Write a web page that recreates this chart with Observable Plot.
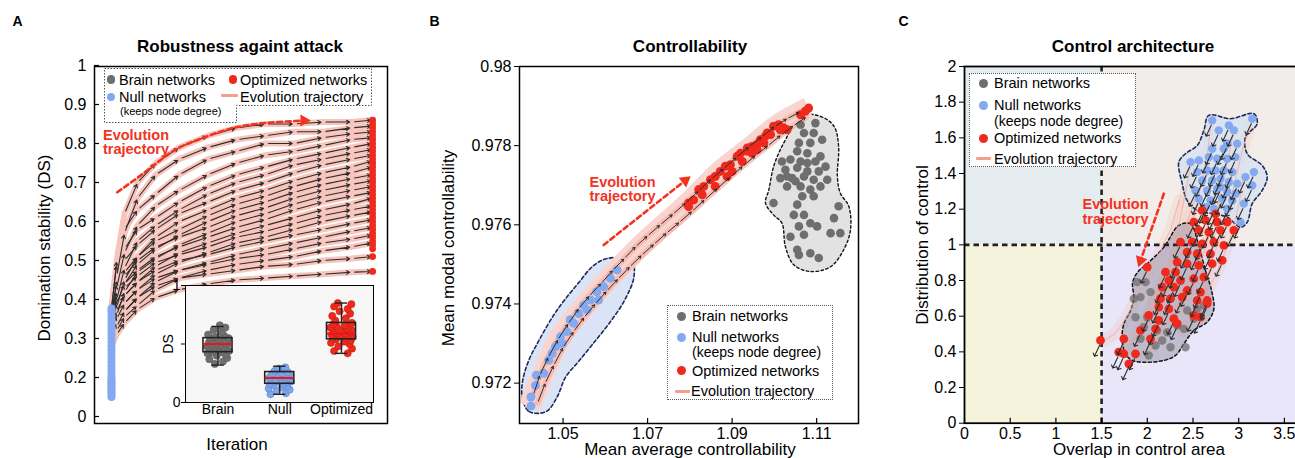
<!DOCTYPE html>
<html>
<head>
<meta charset="utf-8">
<script src="https://cdn.jsdelivr.net/npm/d3@7"></script>
<script src="https://cdn.jsdelivr.net/npm/@observablehq/plot@0.6"></script>
<style>
  html, body { margin: 0; padding: 0; background: #fff; }
  #root { position: relative; width: 1295px; height: 458px; overflow: hidden; background: #fff;
          font-family: "Liberation Sans", Arial, Helvetica, sans-serif; color: #000; }
  .abs { position: absolute; white-space: nowrap; line-height: 1; }
  .legend { position: absolute; background: #fff; border: 1px dotted #555; box-sizing: border-box; }
</style>
</head>
<body>
<div id="root"></div>
<script>
// ================= DATA =================
// ---- Panel A: Robustness against attack ----
const iterA = [0, 2, 5, 10, 17, 26, 37, 48, 59, 70, 81, 92, 100];
const dsTrajA = [
  [0.37,0.50,0.62,0.70,0.75,0.79,0.82,0.84,0.85,0.85,0.855,0.855,0.86],
  [0.34,0.46,0.57,0.66,0.72,0.76,0.79,0.81,0.82,0.83,0.83,0.84,0.845],
  [0.38,0.49,0.58,0.63,0.67,0.72,0.76,0.78,0.80,0.80,0.815,0.825,0.83],
  [0.33,0.43,0.52,0.59,0.64,0.68,0.72,0.75,0.77,0.78,0.795,0.81,0.815],
  [0.35,0.45,0.53,0.58,0.61,0.65,0.69,0.72,0.74,0.76,0.775,0.79,0.80],
  [0.31,0.40,0.48,0.55,0.59,0.63,0.67,0.70,0.72,0.745,0.76,0.775,0.785],
  [0.37,0.44,0.50,0.54,0.58,0.62,0.65,0.68,0.70,0.725,0.745,0.76,0.77],
  [0.30,0.38,0.45,0.51,0.56,0.60,0.63,0.66,0.68,0.705,0.725,0.74,0.755],
  [0.34,0.41,0.47,0.51,0.55,0.58,0.615,0.645,0.665,0.69,0.71,0.725,0.74],
  [0.32,0.39,0.44,0.49,0.53,0.565,0.60,0.63,0.65,0.675,0.695,0.71,0.72],
  [0.36,0.42,0.46,0.50,0.535,0.56,0.585,0.615,0.635,0.66,0.68,0.695,0.705],
  [0.29,0.36,0.42,0.47,0.505,0.54,0.57,0.60,0.62,0.645,0.665,0.68,0.69],
  [0.33,0.39,0.44,0.475,0.51,0.535,0.56,0.585,0.605,0.63,0.65,0.665,0.675],
  [0.31,0.37,0.41,0.445,0.485,0.52,0.545,0.57,0.59,0.61,0.63,0.645,0.66],
  [0.35,0.40,0.43,0.46,0.495,0.515,0.535,0.56,0.575,0.595,0.615,0.63,0.64],
  [0.30,0.35,0.39,0.425,0.465,0.495,0.52,0.545,0.56,0.58,0.60,0.615,0.625],
  [0.33,0.37,0.41,0.445,0.475,0.50,0.515,0.535,0.55,0.565,0.58,0.595,0.605],
  [0.28,0.33,0.37,0.405,0.445,0.475,0.495,0.515,0.53,0.545,0.56,0.575,0.585],
  [0.32,0.36,0.39,0.425,0.455,0.475,0.49,0.505,0.515,0.53,0.545,0.555,0.565],
  [0.29,0.32,0.355,0.385,0.425,0.455,0.475,0.49,0.50,0.51,0.525,0.535,0.545],
  [0.31,0.34,0.37,0.405,0.435,0.455,0.465,0.475,0.485,0.49,0.50,0.505,0.51],
  [0.28,0.31,0.34,0.375,0.405,0.425,0.44,0.45,0.455,0.46,0.465,0.47,0.472]
];
const nullStartA = [0.10,0.11,0.12,0.13,0.14,0.15,0.16,0.17,0.18,0.19,0.20,0.21,0.22,0.23,0.24,0.25,0.26,0.27,0.28,0.29,0.30,0.31,0.32,0.33,0.34,0.35,0.36,0.37,0.377];
const optFinalA = [0.472,0.51,0.53,0.54,0.55,0.56,0.57,0.58,0.59,0.60,0.61,0.62,0.63,0.64,0.65,0.66,0.67,0.68,0.69,0.70,0.71,0.72,0.73,0.74,0.75,0.76,0.77,0.78,0.79,0.80,0.81,0.82,0.83,0.84,0.85,0.86];
const evoCurveA = [[2.2,0.675],[13.7,0.731],[23.9,0.782],[34.1,0.812],[45.6,0.838],[58.3,0.852],[73.7,0.859]];
const ticksA = [0, 0.2, 0.3, 0.4, 0.5, 0.6, 0.7, 0.8, 0.9, 1];

// ---- Panel A inset ----
const insetCats = ["Brain", "Null", "Optimized"];
const insetPos = [1, 2, 3];
const brainDSInset = [0.33,0.35,0.37,0.38,0.40,0.41,0.42,0.43,0.43,0.44,0.45,0.45,0.46,0.47,0.47,0.48,0.49,0.49,0.50,0.50,0.51,0.51,0.52,0.53,0.53,0.54,0.55,0.55,0.56,0.57,0.58,0.60,0.62,0.64,0.66];
const brainJitInset = [-0.05,0.08,-0.14,0.15,-0.02,0.12,-0.17,0.05,-0.09,0.18,-0.12,0.02,0.14,-0.06,0.09,-0.18,0.04,-0.1,0.16,-0.03,0.11,-0.15,0.07,-0.08,0.13,0.0,-0.13,0.17,-0.04,0.1,-0.16,0.06,-0.07,0.12,0.03];
const nullDSInset = [0.07,0.08,0.10,0.11,0.12,0.13,0.14,0.15,0.16,0.16,0.17,0.18,0.18,0.19,0.19,0.20,0.20,0.21,0.21,0.22,0.22,0.23,0.23,0.24,0.24,0.25,0.25,0.26,0.27,0.28,0.29,0.30];
const nullJitInset = [-0.15,0.1,-0.05,0.16,-0.18,0.03,0.12,-0.1,0.07,-0.16,0.14,-0.03,0.18,-0.12,0.05,0.1,-0.07,0.15,-0.17,0.0,0.08,-0.14,0.17,-0.05,0.11,-0.11,0.04,0.13,-0.08,0.06,-0.02,0.09];
const optDSInset = [0.42,0.44,0.46,0.48,0.50,0.51,0.52,0.53,0.54,0.55,0.55,0.56,0.57,0.57,0.58,0.59,0.59,0.60,0.60,0.61,0.62,0.62,0.63,0.64,0.65,0.65,0.66,0.67,0.68,0.70,0.72,0.74,0.76,0.78,0.80,0.82,0.84,0.85];
const optJitInset = [0.1,-0.12,0.17,-0.05,0.13,-0.17,0.04,0.15,-0.09,0.08,-0.14,0.18,-0.02,0.11,-0.16,0.06,-0.07,0.14,-0.11,0.02,0.16,-0.04,0.09,-0.18,0.12,-0.08,0.05,-0.13,0.17,-0.1,0.07,-0.15,0.14,-0.03,0.1,-0.12,0.16,-0.06];
const boxQ1 = [0.43, 0.16, 0.54];
const boxMed = [0.50, 0.21, 0.59];
const boxQ3 = [0.55, 0.26, 0.68];
const boxLo = [0.32, 0.07, 0.42];
const boxHi = [0.65, 0.31, 0.85];

// ---- Panel B: Controllability ----
const brainB = [
[1.1062,0.97853],[1.1097,0.97857],[1.1070,0.97832],[1.1093,0.97832],[1.1058,0.97807],[1.1085,0.97807],[1.1113,0.97815],[1.1054,0.97786],[1.1078,0.97781],[1.1109,0.97773],
[1.1018,0.97760],[1.1038,0.97765],[1.1062,0.97760],[1.1097,0.97760],[1.1121,0.97747],[1.1026,0.97739],[1.1054,0.97744],[1.1078,0.97735],[1.1105,0.97735],[1.1014,0.97718],
[1.1042,0.97718],[1.1070,0.97722],[1.1093,0.97714],[1.1125,0.97714],[1.1030,0.97697],[1.1062,0.97697],[1.1085,0.97689],[1.1109,0.97697],[1.0998,0.97655],[1.1066,0.97672],
[1.1093,0.97672],[1.1054,0.97651],[1.1152,0.97647],[1.1046,0.97625],[1.1070,0.97625],[1.1141,0.97617],[1.1058,0.97596],[1.1085,0.97604],[1.1101,0.97596],[1.1038,0.97570],
[1.1070,0.97575],[1.1133,0.97579],[1.1156,0.97579],[1.1054,0.97537],[1.1085,0.97528],[1.1105,0.97516],[1.1058,0.97524],[1.1030,0.97722],[1.1078,0.97756],[1.1050,0.97710]
];
const nullB = [
[1.0424,0.97142],[1.0424,0.97165],[1.0435,0.97194],[1.0437,0.9722],[1.0454,0.97225],[1.0466,0.97258],[1.0482,0.97292],[1.0494,0.97317],[1.0509,0.9733],[1.0525,0.97351],[1.0537,0.97376],
[1.0549,0.97397],[1.0565,0.9741],[1.058,0.97431],[1.0596,0.97444],[1.0612,0.97465],[1.0628,0.97486],[1.0584,0.9741],[1.0557,0.97385],[1.0517,0.9736],[1.0498,0.973],[1.0474,0.97275]
];
const optB = [
[1.0797,0.97655],[1.0809,0.97663],[1.0821,0.97689],[1.0833,0.97697],[1.0849,0.97714],[1.0860,0.97722],[1.0872,0.97735],[1.0884,0.97748],[1.0896,0.97752],[1.0912,0.97773],
[1.0924,0.9776],[1.0920,0.97781],[1.0936,0.97786],[1.0947,0.97798],[1.0959,0.97803],[1.0967,0.97815],[1.0979,0.97824],[1.0983,0.97832],[1.0998,0.97849],[1.1010,0.97853],
[1.1022,0.97845],[1.1030,0.9784],[1.1062,0.97878],[1.1073,0.97887],[1.1081,0.97895],[1.0860,0.97697],[1.0888,0.97722],[1.0900,0.97735],[1.0947,0.97781],[1.0959,0.9779],
[1.0991,0.97828],[1.1014,0.9784],[1.0829,0.97676],[1.0797,0.97646],[1.0936,0.97794],[1.0975,0.97807]
];
const nullBlobB = [
[1.0404,0.97160],[1.0420,0.97128],[1.0460,0.97128],[1.0486,0.97165],[1.0506,0.97215],[1.0537,0.97255],[1.0569,0.97297],[1.0607,0.97348],[1.0646,0.97410],[1.0668,0.97470],
[1.0662,0.97510],[1.0605,0.97515],[1.0570,0.97495],[1.0538,0.97455],[1.0505,0.97412],[1.0478,0.97372],[1.0443,0.97308],[1.0418,0.97255],[1.0404,0.97203]
];
const brainBlobB = [
[1.1054,0.97878],[1.1109,0.97874],[1.1141,0.97849],[1.1152,0.97798],[1.1149,0.97722],[1.1156,0.9768],[1.1176,0.97647],[1.1180,0.97587],[1.1164,0.97537],[1.1133,0.97494],
[1.1085,0.97482],[1.1046,0.97499],[1.1026,0.97545],[1.1018,0.97604],[1.0998,0.97625],[1.0979,0.97655],[1.0987,0.97689],[1.0998,0.97747],[1.1014,0.9779],[1.1034,0.97832],[1.1042,0.97862]
];
const bandB = [[1.0420,0.97140],[1.0454,0.97225],[1.0494,0.97317],[1.0537,0.97376],[1.0580,0.97431],[1.0628,0.97486],[1.0691,0.97554],[1.0797,0.97655],[1.0872,0.97735],[1.0947,0.97798],[1.1010,0.97853],[1.1081,0.97895]];
const laneB1 = [[1.0430,0.97170],[1.0445,0.97220],[1.0465,0.97265],[1.0488,0.97310],[1.0512,0.97350],[1.0537,0.97388],[1.0562,0.97420],[1.0590,0.97452],[1.0618,0.97485],[1.0645,0.97515],[1.0672,0.97545],[1.0700,0.97572],[1.0730,0.97600],[1.0760,0.97627],[1.0790,0.97655],[1.0820,0.97685],[1.0850,0.97715],[1.0880,0.97742],[1.0910,0.97770],[1.0940,0.97797],[1.0970,0.97822],[1.1000,0.97848],[1.1030,0.97868],[1.1060,0.97885]];
const laneB2 = [[1.0440,0.97150],[1.0458,0.97200],[1.0478,0.97245],[1.0500,0.97290],[1.0525,0.97330],[1.0550,0.97366],[1.0576,0.97400],[1.0603,0.97432],[1.0630,0.97463],[1.0658,0.97494],[1.0686,0.97523],[1.0715,0.97551],[1.0745,0.97579],[1.0775,0.97606],[1.0805,0.97634],[1.0835,0.97663],[1.0865,0.97692],[1.0895,0.97720],[1.0925,0.97748],[1.0955,0.97775],[1.0985,0.97800],[1.1015,0.97826],[1.1045,0.97850],[1.1075,0.97872]];
const evoArrowB = [[1.0596,0.97549],[1.0789,0.97712]];
const ticksBx = [1.05, 1.07, 1.09, 1.11];
const ticksBy = [0.972, 0.974, 0.976, 0.978, 0.98];

// ---- Panel C: Control architecture ----
const thresholdX = 1.5, thresholdY = 1;
const quadrantsC = [
  {x1: 0, x2: 1.5, y1: 1, y2: 2, fill: "#e5ecef"},
  {x1: 1.5, x2: 4, y1: 1, y2: 2, fill: "#f3ede9"},
  {x1: 0, x2: 1.5, y1: 0, y2: 1, fill: "#f5f3dc"},
  {x1: 1.5, x2: 4, y1: 0, y2: 1, fill: "#e8e6f8"}
];
const blueC = [
[2.710,1.698],[2.892,1.670],[3.148,1.707],[2.782,1.642],[2.947,1.642],[2.874,1.567],[2.710,1.539],[2.837,1.539],[2.983,1.567],[2.473,1.464],[2.564,1.473],[2.673,1.492],
[2.765,1.483],[2.874,1.483],[2.965,1.492],[3.166,1.408],[2.546,1.408],[2.655,1.417],[2.746,1.417],[2.837,1.417],[2.929,1.408],[3.074,1.380],[2.600,1.361],[2.710,1.361],
[2.801,1.371],[2.892,1.352],[2.983,1.343],[3.148,1.333],[2.527,1.305],[2.655,1.305],[2.765,1.315],[2.874,1.296],[2.965,1.287],[2.564,1.259],[2.691,1.249],[2.819,1.259],
[2.929,1.249],[3.056,1.231],[2.728,1.202],[2.874,1.202],[3.020,1.127],[2.637,1.211],[2.801,1.324]
];
const redC = [
[2.600,1.193],[2.746,1.174],[2.509,1.127],[2.637,1.137],[2.765,1.127],[2.874,1.127],[2.564,1.081],[2.673,1.071],[2.801,1.081],[2.947,1.081],[2.363,1.015],[2.491,1.015],
[2.600,1.006],[2.728,1.015],[2.837,0.997],[2.436,0.959],[2.546,0.950],[2.691,0.950],[2.819,0.913],[2.327,0.903],[2.436,0.894],[2.564,0.885],[2.710,0.894],[2.199,0.847],
[2.309,0.847],[2.236,0.800],[2.363,0.800],[2.509,0.810],[2.619,0.819],[2.163,0.763],[2.290,0.763],[2.436,0.744],[2.582,0.735],[2.144,0.698],[2.254,0.698],[2.382,0.707],
[2.546,0.688],[2.655,0.688],[1.999,0.875],[2.126,0.651],[2.236,0.641],[2.016,0.604],[2.126,0.576],[2.290,0.586],[2.509,0.604],[2.582,0.594],[1.926,0.520],[2.090,0.529],
[1.488,0.464],[1.743,0.473],[1.688,0.398],[1.743,0.389],[1.871,0.389],[1.798,0.333],[2.035,0.473],[2.327,0.558],[2.655,0.670]
];
const greyC = [
[1.889,0.791],[1.980,0.791],[1.926,0.707],[2.035,0.735],[1.871,0.594],[1.999,0.594],[2.108,0.520],[2.218,0.510],[2.327,0.548],[2.400,0.529],[2.436,0.632],
[2.546,0.641],[2.619,0.660],[2.509,0.586],[2.418,0.426],[2.254,0.426],[2.016,0.380],[1.926,0.473],[2.090,0.436],[2.163,0.464],[1.962,0.538],[1.853,0.698]
];
const nullBlobC = [
[2.673,1.726],[2.910,1.707],[3.166,1.735],[3.202,1.679],[3.074,1.604],[3.093,1.511],[3.257,1.445],[3.312,1.380],[3.257,1.305],[3.148,1.231],[3.093,1.127],
[3.020,1.099],[2.874,1.155],[2.728,1.174],[2.546,1.193],[2.436,1.249],[2.382,1.343],[2.345,1.464],[2.418,1.511],[2.546,1.557],[2.619,1.642]
];
const brainBlobC = [
[2.345,1.109],[2.473,1.118],[2.56,1.0],[2.64,0.85],[2.70,0.75],[2.728,0.64],[2.655,0.567],[2.509,0.520],[2.400,0.445],[2.309,0.380],[2.181,0.352],
[1.999,0.342],[1.835,0.352],[1.761,0.389],[1.725,0.464],[1.743,0.557],[1.816,0.632],[1.853,0.698],[1.840,0.790],[1.900,0.850],[1.999,0.894],[2.181,0.987]
];
const trajC = [
  [[3.15,1.70],[3.05,1.55],[2.98,1.40],[2.90,1.22],[2.80,1.05],[2.70,0.90],[2.62,0.78],[2.55,0.66]],
  [[2.70,1.70],[2.66,1.52],[2.60,1.36],[2.52,1.18],[2.42,1.02],[2.32,0.88],[2.22,0.74],[2.12,0.60]],
  [[2.95,1.64],[2.88,1.48],[2.80,1.30],[2.72,1.12],[2.62,0.96],[2.52,0.82],[2.42,0.70],[2.30,0.56]],
  [[2.48,1.46],[2.42,1.30],[2.36,1.14],[2.28,0.98],[2.18,0.84],[2.08,0.70],[1.98,0.56],[1.86,0.42]],
  [[3.05,1.38],[3.00,1.22],[2.92,1.06],[2.82,0.92],[2.72,0.80],[2.62,0.70],[2.50,0.60],[2.40,0.52]],
  [[2.55,1.30],[2.45,1.15],[2.35,1.00],[2.25,0.86],[2.12,0.72],[2.00,0.60],[1.88,0.50],[1.75,0.40]],
  [[2.80,1.25],[2.70,1.10],[2.58,0.96],[2.46,0.82],[2.34,0.68],[2.22,0.56],[2.10,0.46],[1.98,0.38]],
  [[2.35,1.25],[2.25,1.08],[2.12,0.94],[2.00,0.82],[1.88,0.70],[1.76,0.58],[1.64,0.50],[1.52,0.46]]
];
const evoArrowC = [[2.181,1.287],[1.926,0.912]];
const ticksCx = [0, 0.5, 1, 1.5, 2, 2.5, 3, 3.5];
const ticksCy = [0, 0.2, 0.4, 0.6, 0.8, 1, 1.2, 1.4, 1.6, 1.8, 2];

// ================= STYLE =================
const FONT = '"Liberation Sans", Arial, Helvetica, sans-serif';
const RED = "#f0291c", BLUE = "#84a9f0", GREY = "#6e6e6e", PINK = "#f8c5bd",
      PINK_LEG = "#f49d93", ARROW = "#2d2d2d", EVO = "#f2331f";
const fmt = d3.format("~g");
const root = document.getElementById("root");
const X = d => d[0], Y = d => d[1];
const svgStyle = (fs) => ({fontFamily: FONT, fontSize: fs + "px", color: "#000", background: "transparent", overflow: "visible"});

function place(node, left, top) {
  node.style.position = "absolute"; node.style.left = left + "px"; node.style.top = top + "px";
  root.appendChild(node);
}
function txt(s, x, y, o = {}) {
  const d = document.createElement("div");
  d.className = "abs"; d.textContent = s;
  d.style.left = x + "px"; d.style.top = y + "px";
  d.style.fontSize = (o.size || 16) + "px";
  if (o.bold) d.style.fontWeight = "bold";
  if (o.color) d.style.color = o.color;
  d.style.transform = (o.anchor === "start" ? "translate(0,-50%)" : "translate(-50%,-50%)") + (o.rotate ? ` rotate(${o.rotate}deg)` : "");
  root.appendChild(d); return d;
}
function dot(cx, cy, r, color) {
  const d = document.createElement("div");
  Object.assign(d.style, {position: "absolute", left: (cx - r) + "px", top: (cy - r) + "px", width: 2 * r + "px", height: 2 * r + "px", borderRadius: "50%", background: color});
  root.appendChild(d);
}
function bar(x1, x2, y, color, t) {
  const d = document.createElement("div");
  Object.assign(d.style, {position: "absolute", left: x1 + "px", top: (y - t / 2) + "px", width: (x2 - x1) + "px", height: t + "px", background: color, borderRadius: "1px"});
  root.appendChild(d);
}
function box(left, top, w, h) {
  const d = document.createElement("div"); d.className = "legend";
  Object.assign(d.style, {left: left + "px", top: top + "px", width: w + "px", height: h + "px"});
  root.appendChild(d);
}

// ================= PANEL A =================
const trajRowsA = dsTrajA.flatMap((t, k) => t.map((ds, i) => ({k, it: iterA[i], ds})));
const trajSegsA = dsTrajA.flatMap((t, k) => t.slice(1).map((ds, i) => ({k, i, x1: iterA[i], y1: t[i], x2: iterA[i + 1], y2: ds})))
  .filter(s => s.i > 1 || s.k % 2 === s.i % 2);
const lastA = iterA[iterA.length - 1];

const plotA = Plot.plot({
  width: 400, height: 458,
  marginLeft: 94, marginRight: 13, marginTop: 66, marginBottom: 35,
  x: {domain: [-6.5, 105.7], axis: null},
  y: {type: "linear", domain: [0, 0.2, 1], range: [416, 377, 65]},
  style: svgStyle(16),
  marks: [
    Plot.line(trajRowsA, {x: "it", y: "ds", z: "k", stroke: PINK, strokeWidth: 6, strokeLinejoin: "round", strokeLinecap: "round"}),
    Plot.arrow(trajSegsA, {x1: "x1", y1: "y1", x2: "x2", y2: "y2", stroke: ARROW, strokeWidth: 1.1, headLength: 5, insetStart: 3, insetEnd: 2}),
    Plot.dot(nullStartA, {x: () => iterA[0], y: d => d, r: 4, fill: BLUE}),
    Plot.dot(optFinalA, {x: () => lastA, y: d => d, r: 3.4, fill: RED}),
    Plot.line(evoCurveA, {x: X, y: Y, curve: "natural", stroke: EVO, strokeWidth: 2.6, strokeDasharray: "5,3.5"}),
    Plot.dot(evoCurveA.slice(-1), {x: X, y: Y, symbol: "triangle", rotate: 90, r: 4.5, fill: EVO}),
    Plot.tickY(ticksA, {y: d => d, insetRight: 288, stroke: "#000", strokeWidth: 1.2}),
    Plot.axisY({ticks: ticksA, tickFormat: fmt, tickSize: 0, tickPadding: 8, label: null}),
    Plot.frame({stroke: "#000", strokeWidth: 1.5})
  ]
});
place(plotA, 0, 0);

// inset
const insetStats = insetPos.map((p, i) => ({p, q1: boxQ1[i], med: boxMed[i], q3: boxQ3[i], lo: boxLo[i], hi: boxHi[i]}));
const jit = (vals, jits, p) => vals.map((v, i) => ({x: p + jits[i], y: v}));
const plotInset = Plot.plot({
  width: 240, height: 145,
  marginLeft: 35, marginRight: 17, marginTop: 10, marginBottom: 18,
  x: {domain: [0.474, 3.518], axis: null},
  y: {domain: [0, 1], axis: null},
  style: svgStyle(14),
  marks: [
    Plot.frame({fill: "#f6f6f6"}),
    Plot.dot(jit(brainDSInset, brainJitInset, insetPos[0]), {x: "x", y: "y", r: 3.6, fill: "#6f6f6f", stroke: "#555", strokeWidth: 0.5}),
    Plot.dot(jit(nullDSInset, nullJitInset, insetPos[1]), {x: "x", y: "y", r: 3.6, fill: "#7ea4ea", stroke: "#5d7fc0", strokeWidth: 0.5}),
    Plot.dot(jit(optDSInset, optJitInset, insetPos[2]), {x: "x", y: "y", r: 3.6, fill: "#ee2a1c", stroke: "#b81d12", strokeWidth: 0.5}),
    Plot.ruleX(insetStats, {x: "p", y1: "lo", y2: "q1", stroke: "#222", strokeWidth: 1.4}),
    Plot.ruleX(insetStats, {x: "p", y1: "q3", y2: "hi", stroke: "#222", strokeWidth: 1.4}),
    Plot.ruleY(insetStats, {y: "lo", x1: d => d.p - 0.1, x2: d => d.p + 0.1, stroke: "#222", strokeWidth: 1.4}),
    Plot.ruleY(insetStats, {y: "hi", x1: d => d.p - 0.1, x2: d => d.p + 0.1, stroke: "#222", strokeWidth: 1.4}),
    Plot.rect(insetStats, {x1: d => d.p - 0.235, x2: d => d.p + 0.235, y1: "q1", y2: "q3", fill: "none", stroke: "#222", strokeWidth: 1.6}),
    Plot.ruleY(insetStats, {y: "med", x1: d => d.p - 0.235, x2: d => d.p + 0.235, stroke: "#e8151b", strokeWidth: 2}),
    Plot.axisY({ticks: [0, 0.5, 1], tickFormat: d => d === 0.5 ? "" : fmt(d), tickSize: 4, tickPadding: 1, label: null}),
    Plot.axisX({ticks: insetPos, tickFormat: p => insetCats[p - 1], tickSize: 0, tickPadding: 2, label: null}),
    Plot.frame({stroke: "#000", strokeWidth: 1})
  ]
});
place(plotInset, 150, 275);

// ================= PANEL B =================
const laneSegsB = [laneB1, laneB2].flatMap(l => l.slice(1).map((q, i) => ({x1: l[i][0], y1: l[i][1], x2: q[0], y2: q[1]})));
const evoHeadB = evoArrowB.slice(-1);
const plotB = Plot.plot({
  width: 430, height: 458,
  marginLeft: 89, marginRight: 2, marginTop: 66, marginBottom: 35,
  x: {domain: [1.0397, 1.1199]},
  y: {domain: [0.97098, 0.98]},
  style: svgStyle(16),
  marks: [
    Plot.line(nullBlobB, {x: X, y: Y, curve: "catmull-rom-closed", fill: "#dae4f6", stroke: "#1c2b5a", strokeWidth: 1.6, strokeDasharray: "3.5,2.5"}),
    Plot.line(brainBlobB, {x: X, y: Y, curve: "catmull-rom-closed", fill: "#e2e2e2", stroke: "#111", strokeWidth: 1.4, strokeDasharray: "2.5,2.5"}),
    Plot.line(bandB, {x: X, y: Y, curve: "catmull-rom", stroke: "#fad5cf", strokeWidth: 22, strokeLinecap: "butt", strokeLinejoin: "round"}),
    Plot.line(laneB1, {x: X, y: Y, curve: "catmull-rom", stroke: "#f6b7ad", strokeWidth: 6, strokeOpacity: 0.8, strokeLinecap: "round"}),
    Plot.line(laneB2, {x: X, y: Y, curve: "catmull-rom", stroke: "#f6b7ad", strokeWidth: 6, strokeOpacity: 0.8, strokeLinecap: "round"}),
    Plot.dot(nullB, {x: X, y: Y, r: 4.5, fill: BLUE}),
    Plot.dot(brainB, {x: X, y: Y, r: 4.3, fill: GREY}),
    Plot.dot(optB, {x: X, y: Y, r: 4.5, fill: RED}),
    Plot.arrow(laneSegsB, {x1: "x1", y1: "y1", x2: "x2", y2: "y2", stroke: ARROW, strokeWidth: 1, headLength: 4, insetStart: 2, insetEnd: 1}),
    Plot.line(evoArrowB, {x: X, y: Y, stroke: EVO, strokeWidth: 2.6, strokeDasharray: "5,3.5"}),
    Plot.dot(evoHeadB, {x: X, y: Y, symbol: "triangle", rotate: 52, r: 4.5, fill: EVO}),
    Plot.tickX(ticksBx, {x: d => d, insetTop: 352, stroke: "#000", strokeWidth: 1.2}),
    Plot.axisX({ticks: ticksBx, tickFormat: fmt, tickSize: 0, tickPadding: 4, label: null}),
    Plot.axisY({ticks: ticksBy, tickFormat: fmt, tickSize: 5, tickPadding: 3, label: null}),
    Plot.frame({stroke: "#000", strokeWidth: 1.5})
  ]
});
place(plotB, 430, 0);

// ================= PANEL C =================
const trajRowsC = trajC.flatMap((t, k) => t.map(p => ({k, x: p[0], y: p[1]})));
const plotC = Plot.plot({
  width: 430, height: 458,
  marginLeft: 64, marginRight: 0.4, marginTop: 66, marginBottom: 35.3,
  x: {domain: [0, 4]},
  y: {domain: [0, 2]},
  style: svgStyle(16),
  marks: [
    ...quadrantsC.map(q => Plot.rect([q], {x1: "x1", x2: "x2", y1: "y1", y2: "y2", fill: q.fill})),
    Plot.line(trajRowsC, {x: "x", y: "y", z: "k", stroke: "#f7b8af", strokeWidth: 12, strokeOpacity: 0.22, strokeLinecap: "round", strokeLinejoin: "round"}),
    Plot.line(nullBlobC, {x: X, y: Y, curve: "catmull-rom-closed", fill: "#d6e2f0", fillOpacity: 0.8, stroke: "#1c2b5a", strokeWidth: 1.6, strokeDasharray: "3.5,2.5"}),
    Plot.line(brainBlobC, {x: X, y: Y, curve: "catmull-rom-closed", fill: "#9c9aab", fillOpacity: 0.55, stroke: "#111", strokeWidth: 1.5, strokeDasharray: "3,2.5"}),
    Plot.line(trajRowsC, {x: "x", y: "y", z: "k", stroke: "#f3a398", strokeWidth: 1.2, strokeOpacity: 0.6}),
    Plot.ruleX([thresholdX], {x: d => d, stroke: "#222", strokeWidth: 2.6, strokeDasharray: "5.5,4"}),
    Plot.ruleY([thresholdY], {y: d => d, stroke: "#222", strokeWidth: 2.6, strokeDasharray: "5.5,4"}),
    Plot.dot(greyC, {x: X, y: Y, r: 4.2, fill: "#6e6e6e", fillOpacity: 0.75}),
    Plot.dot(blueC, {x: X, y: Y, r: 4.2, fill: BLUE}),
    Plot.dot(redC, {x: X, y: Y, r: 4.4, fill: RED}),
    Plot.vector(blueC.concat(redC), {x: X, y: Y, length: 12, rotate: 205, anchor: "start", dx: -1, dy: 5, stroke: ARROW, strokeWidth: 1.1}),
    Plot.line(evoArrowC, {x: X, y: Y, stroke: EVO, strokeWidth: 2.6, strokeDasharray: "5,3.5"}),
    Plot.dot(evoArrowC.slice(-1), {x: X, y: Y, symbol: "triangle", rotate: 199, r: 4.5, fill: EVO}),
    Plot.tickX(ticksCx, {x: d => d, insetTop: 351.7, stroke: "#000", strokeWidth: 1.2}),
    Plot.axisX({ticks: ticksCx, tickFormat: fmt, tickSize: 0, tickPadding: 4, label: null}),
    Plot.axisY({ticks: ticksCy, tickFormat: fmt, tickSize: 5, tickPadding: 3, label: null}),
    Plot.frame({stroke: "#000", strokeWidth: 1.8})
  ]
});
place(plotC, 900, 0);

// ================= TEXT / LEGENDS =================
txt("A", 17.5, 21, {size: 14, bold: true});
txt("B", 434.5, 21, {size: 14, bold: true});
txt("C", 903.5, 21, {size: 14, bold: true});
txt("Robustness againt attack", 240, 46, {size: 17, bold: true});
txt("Controllability", 690, 46, {size: 17, bold: true});
txt("Control architecture", 1133, 46, {size: 17, bold: true});

txt("Domination stability (DS)", 43.5, 248, {size: 17, rotate: -90});
txt("Iteration", 237, 444, {size: 17});
txt("DS", 167.5, 343.5, {size: 14, rotate: -90});
txt("Mean modal controllability", 448, 248, {size: 17, rotate: -90});
txt("Mean average controllability", 690, 449, {size: 17});
txt("Distribution of control", 921.5, 245, {size: 17, rotate: -90});
txt("Overlap in control area", 1139, 449, {size: 17});

txt("Evolution", 136, 135, {size: 14.5, bold: true, color: EVO});
txt("trajectory", 136, 148.5, {size: 14.5, bold: true, color: EVO});
txt("Evolution", 622.5, 181.5, {size: 14.5, bold: true, color: EVO});
txt("trajectory", 622.5, 195.5, {size: 14.5, bold: true, color: EVO});
txt("Evolution", 1115.5, 204, {size: 14.5, bold: true, color: EVO});
txt("trajectory", 1115.5, 218.5, {size: 14.5, bold: true, color: EVO});

// Legend A (L-shaped dotted box)
const ns = "http://www.w3.org/2000/svg";
const ov = document.createElementNS(ns, "svg");
ov.setAttribute("width", "1295"); ov.setAttribute("height", "458");
Object.assign(ov.style, {position: "absolute", left: "0px", top: "0px", pointerEvents: "none"});
const lp = document.createElementNS(ns, "path");
lp.setAttribute("d", "M104.5,68.5H371.5V105.5H236.5V122.5H104.5Z");
lp.setAttribute("fill", "#fff"); lp.setAttribute("stroke", "#555"); lp.setAttribute("stroke-dasharray", "1.5,1.5");
ov.appendChild(lp);
root.appendChild(ov);
dot(111, 79.5, 4.3, GREY); txt("Brain networks", 119, 79.5, {size: 14.5, anchor: "start"});
dot(233, 79.5, 4.3, RED); txt("Optimized networks", 240, 79.5, {size: 14.5, anchor: "start"});
dot(111, 97, 4.3, BLUE); txt("Null networks", 119, 97, {size: 14.5, anchor: "start"});
txt("(keeps node degree)", 120, 110.5, {size: 11, anchor: "start"});
bar(221, 238, 95.5, PINK_LEG, 3); txt("Evolution trajectory", 240, 97, {size: 14.5, anchor: "start"});

// Legend B
box(667, 305, 166, 95);
dot(681, 316, 4.5, GREY); txt("Brain networks", 692, 315.5, {size: 14.5, anchor: "start"});
dot(681, 337, 4.5, BLUE); txt("Null networks", 692, 337, {size: 14.5, anchor: "start"});
txt("(keeps node degree)", 692, 352, {size: 14, anchor: "start"});
dot(681, 370, 4.5, RED); txt("Optimized networks", 692, 370.5, {size: 14.5, anchor: "start"});
bar(675, 690, 391, PINK_LEG, 3); txt("Evolution trajectory", 691, 391, {size: 14.5, anchor: "start"});

// Legend C
box(969, 73, 167, 94);
dot(983, 83, 4.5, GREY); txt("Brain networks", 994, 83, {size: 14.5, anchor: "start"});
dot(983, 105, 4.5, BLUE); txt("Null networks", 994, 105, {size: 14.5, anchor: "start"});
txt("(keeps node degree)", 994, 120.5, {size: 14, anchor: "start"});
dot(983, 138, 4.5, RED); txt("Optimized networks", 994, 138, {size: 14.5, anchor: "start"});
bar(976, 991, 158.3, PINK_LEG, 3); txt("Evolution trajectory", 994, 158.5, {size: 14.5, anchor: "start"});
</script>
</body>
</html>
